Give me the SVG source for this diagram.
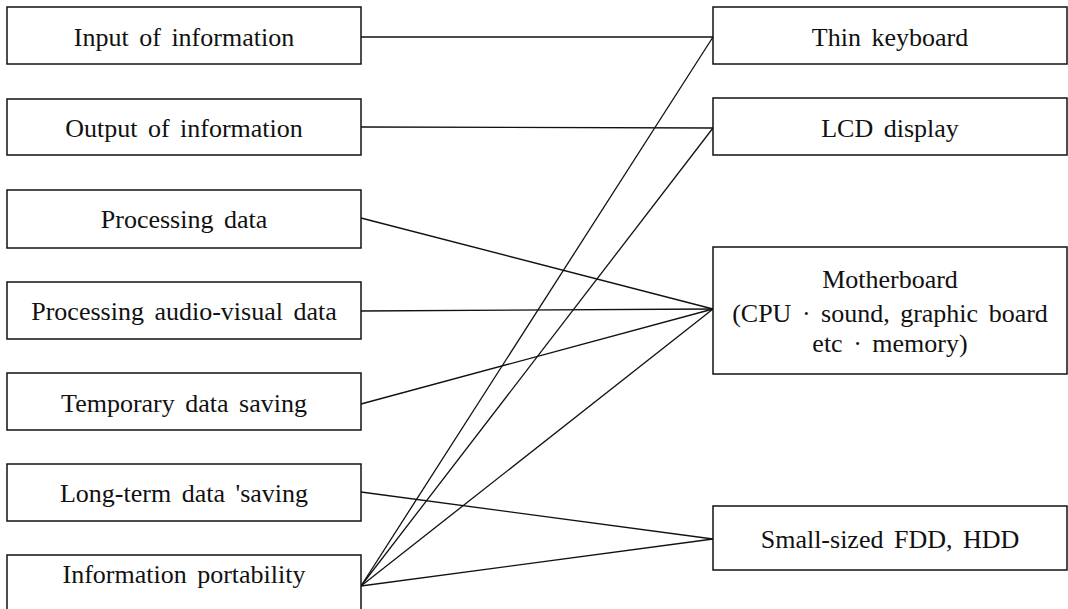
<svg xmlns="http://www.w3.org/2000/svg" width="1068" height="609" viewBox="0 0 1068 609">
<style>
.box{fill:#fff;stroke:#111;stroke-width:1.5}
.t{font-family:"Liberation Serif","Times New Roman",serif;font-size:26px;fill:#111;text-anchor:middle;word-spacing:4px}
.c{stroke:#111;stroke-width:1.3;fill:none}
</style>
<rect width="1068" height="609" fill="#fff"/>
<g id="connectors">
<line class="c" x1="361" y1="37" x2="713" y2="37"/>
<line class="c" x1="361" y1="127" x2="713" y2="128"/>
<line class="c" x1="361" y1="218" x2="713" y2="309"/>
<line class="c" x1="361" y1="311" x2="713" y2="309"/>
<line class="c" x1="361" y1="404" x2="713" y2="309"/>
<line class="c" x1="361" y1="492" x2="713" y2="539"/>
<line class="c" x1="361" y1="586" x2="713" y2="37"/>
<line class="c" x1="361" y1="586" x2="713" y2="128"/>
<line class="c" x1="361" y1="586" x2="713" y2="309"/>
<line class="c" x1="361" y1="586" x2="713" y2="539"/>
</g>
<g id="input"><rect class="box" x="7" y="7" width="354" height="57"/><text class="t" x="184" y="46">Input of information</text></g>
<g id="output"><rect class="box" x="7" y="99" width="354" height="56"/><text class="t" x="184" y="137">Output of information</text></g>
<g id="processing"><rect class="box" x="7" y="190" width="354" height="58"/><text class="t" x="184" y="228">Processing data</text></g>
<g id="audiovisual"><rect class="box" x="7" y="282" width="354" height="57"/><text class="t" x="184" y="320">Processing audio-visual data</text></g>
<g id="temporary"><rect class="box" x="7" y="373" width="354" height="57"/><text class="t" x="184" y="412">Temporary data saving</text></g>
<g id="longterm"><rect class="box" x="7" y="464" width="354" height="57"/><text class="t" x="184" y="502">Long-term data 'saving</text></g>
<g id="portability"><rect class="box" x="7" y="555" width="354" height="60"/><text class="t" x="184" y="583">Information portability</text></g>
<g id="keyboard"><rect class="box" x="713" y="7" width="354" height="57"/><text class="t" x="890" y="46">Thin keyboard</text></g>
<g id="lcd"><rect class="box" x="713" y="98" width="354" height="57"/><text class="t" x="890" y="137">LCD display</text></g>
<g id="motherboard"><rect class="box" x="713" y="247" width="354" height="127"/><text class="t" x="890" y="288">Motherboard</text><text class="t" x="890" y="322">(CPU · sound, graphic board</text><text class="t" x="890" y="352">etc · memory)</text></g>
<g id="fdd"><rect class="box" x="713" y="506" width="354" height="64"/><text class="t" x="890" y="548">Small-sized FDD, HDD</text></g>
</svg>
